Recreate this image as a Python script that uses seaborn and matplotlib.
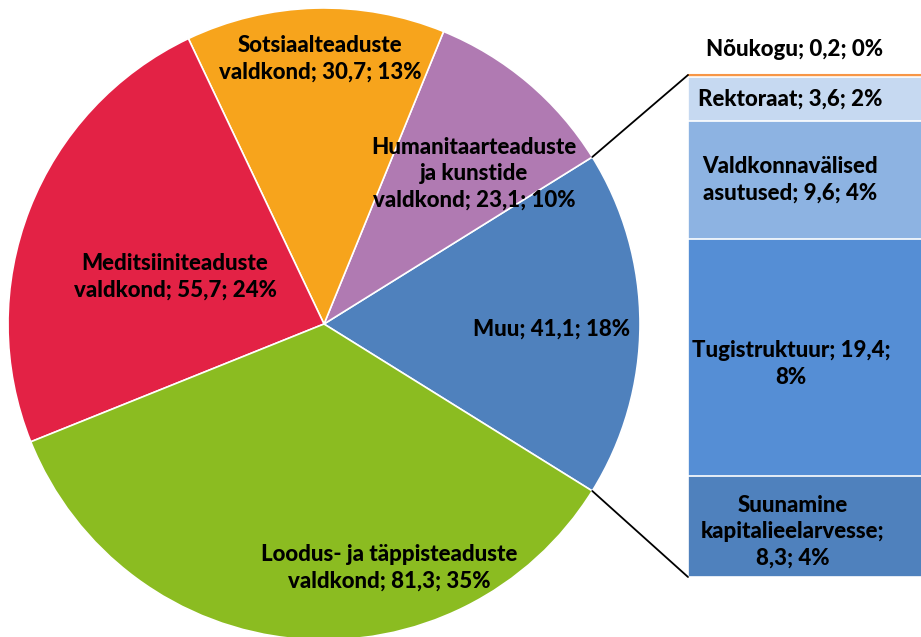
import matplotlib
matplotlib.use("Agg")
import matplotlib.pyplot as plt
from matplotlib.patches import ConnectionPatch
import seaborn as sns
import math

# ---- data ----
pie_names = ["Muu", "Humanitaarteaduste\nja kunstide\nvaldkond", "Sotsiaalteaduste\nvaldkond",
             "Meditsiiniteaduste\nvaldkond", "Loodus- ja täppisteaduste\nvaldkond"]
pie_values = [41.1, 23.1, 30.7, 55.7, 81.3]
pie_colors = ["#4F81BD", "#B07AB2", "#F7A41C", "#E32245", "#8BBC21"]

bar_names = ["Suunamine\nkapitalieelarvesse", "Tugistruktuur", "Valdkonnavälised\nasutused",
             "Rektoraat", "Nõukogu"]
bar_values = [8.3, 19.4, 9.6, 3.6, 0.2]
bar_colors = ["#4F81BD", "#558ED5", "#8DB3E2", "#C6D9F1", "#F79646"]
# separators after name and after value (line breaks as in the original)
bar_sep1 = [";\n", "; ", "; ", "; ", "; "]
bar_sep2 = ["; ", ";\n", "; ", "; ", "; "]

total = sum(pie_values)

def fmt(v):
    return f"{v:.1f}".replace(".", ",")

def pct(v):
    return f"{round(v / total * 100):.0f}%"

sns.set_theme(style="white")
plt.rcParams["font.family"] = ["Lato", "DejaVu Sans"]

W, H = 921, 637
fig = plt.figure(figsize=(W / 100, H / 100), dpi=100)

def px_axes(x0, y0, x1, y1):
    return fig.add_axes([x0 / W, 1 - y1 / H, (x1 - x0) / W, (y1 - y0) / H])

# ---- pie ----
cx, cy, r = 324, 324, 316
ax_pie = px_axes(cx - r, cy - r, cx + r, cy + r)
start = -pie_values[0] / total * 360 / 2
ax_pie.pie(pie_values, colors=pie_colors, startangle=start, counterclock=True,
           wedgeprops=dict(edgecolor="white", linewidth=1.2), radius=1)
ax_pie.set_xlim(-1, 1)
ax_pie.set_ylim(-1, 1)
ax_pie.set_axis_off()

# ---- stacked bar of "Muu" ----
ax_bar = px_axes(688, 75, 925, 577)
cum = []
s = 0
for v in bar_values:
    s += v
    cum.append(s)
for i in range(len(cum) - 1, -1, -1):
    sns.barplot(x=[0], y=[cum[i]], color=bar_colors[i], width=1.0, ax=ax_bar,
                saturation=1, edgecolor="white", linewidth=1.2)
ax_bar.set_xlim(-0.5, 0.5)
ax_bar.set_ylim(0, sum(bar_values))
ax_bar.set_axis_off()
ax_bar.axhline(sum(bar_values), color=bar_colors[-1], linewidth=1.5, clip_on=False)

# connection lines
a = math.radians(pie_values[0] / total * 360 / 2)
for sign, ytop in [(1, sum(bar_values)), (-1, 0)]:
    con = ConnectionPatch(xyA=(math.cos(a), sign * math.sin(a)), coordsA=ax_pie.transData,
                          xyB=(-0.5, ytop), coordsB=ax_bar.transData,
                          color="black", linewidth=1.3)
    fig.add_artist(con)

# ---- labels ----
fs = 16
lw = "black"
ls = 1.33
pie_label_pos = [(552, 329), (474, 174), (320, 59), (175, 277), (389, 568)]
for name, v, (x, y) in zip(pie_names, pie_values, pie_label_pos):
    fig.text(x / W, 1 - y / H, f"{name}; {fmt(v)}; {pct(v)}", ha="center", va="center",
             fontsize=fs, fontweight=lw, color="black", linespacing=ls)

bar_label_pos = [(793, 532), (791, 364), (790, 180), (790, 99), (795, 50)]
for name, v, s1, s2, (x, y) in zip(bar_names, bar_values, bar_sep1, bar_sep2, bar_label_pos):
    fig.text(x / W, 1 - y / H, f"{name}{s1}{fmt(v)}{s2}{pct(v)}", ha="center", va="center",
             fontsize=fs, fontweight=lw, color="black", linespacing=ls)

fig.savefig("out.png", dpi=100)
